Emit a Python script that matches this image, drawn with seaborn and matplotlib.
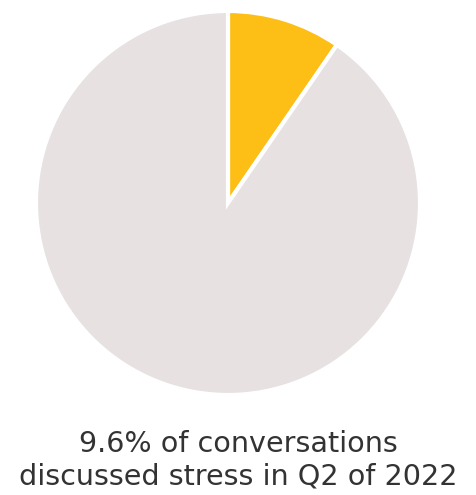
import matplotlib
matplotlib.use("Agg")
import matplotlib.pyplot as plt
import seaborn as sns

# Share of conversations that mentioned stress
labels = ["Discussed stress", "Other topics"]
shares = [9.6, 90.4]
colors = ["#FDBE16", "#E7E1E1"]
caption_lines = ["9.6% of conversations", "discussed stress in Q2 of 2022"]

sns.set_theme(style="white")
plt.rcParams["font.family"] = ["DejaVu Sans"]

W, H = 476, 495
fig = plt.figure(figsize=(W / 100, H / 100), dpi=100)
fig.patch.set_facecolor("white")

cx, cy, r = 228, 203, 192
ax = fig.add_axes([(cx - r) / W, (H - cy - r) / H, 2 * r / W, 2 * r / H])
ax.pie(
    shares,
    colors=colors,
    startangle=90,
    counterclock=False,
    radius=1.0,
    wedgeprops=dict(edgecolor="white", linewidth=3),
)
ax.set_xlim(-1, 1)
ax.set_ylim(-1, 1)
ax.set_aspect("equal")
ax.axis("off")

fig.text(0.5, (H - 444) / H, caption_lines[0], ha="center", va="center",
         fontsize=20.6, color="#333333")
fig.text(0.5, (H - 476) / H, caption_lines[1], ha="center", va="center",
         fontsize=20.6, color="#333333")

fig.savefig("out.png", dpi=100, facecolor="white")
